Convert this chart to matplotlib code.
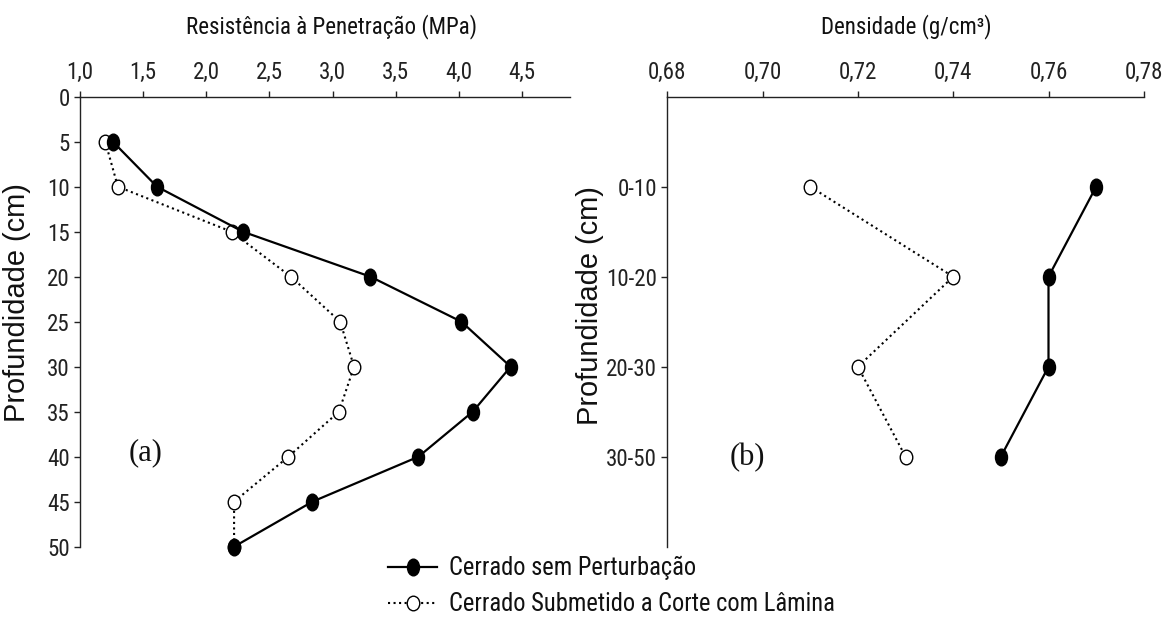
import numpy as np
import matplotlib
matplotlib.use('Agg')
import matplotlib.pyplot as plt
from matplotlib import font_manager as fm
from matplotlib.font_manager import FontProperties
from matplotlib.path import Path
from matplotlib.textpath import TextPath
from matplotlib.transforms import Affine2D
from matplotlib.lines import Line2D
from matplotlib.ticker import FuncFormatter

# dados
prof = [5, 10, 15, 20, 25, 30, 35, 40, 45, 50]
rp_sem = [1.26, 1.61, 2.29, 3.30, 4.02, 4.41, 4.11, 3.68, 2.84, 2.22]
rp_corte = [1.20, 1.30, 2.20, 2.67, 3.06, 3.17, 3.05, 2.65, 2.22, 2.22]

camadas = ['0-10', '10-20', '20-30', '30-50']
dens_sem = [0.77, 0.76, 0.76, 0.75]
dens_corte = [0.71, 0.74, 0.72, 0.73]

rotulos = ['Cerrado sem Perturbação', 'Cerrado Submetido a Corte com Lâmina']


def fonte_estreita():
    # the reference uses a narrow sans; take one if the box has it
    fontes = fm.fontManager.ttflist
    nomes = {f.name for f in fontes}
    for n in ('Liberation Sans Narrow', 'Arial Narrow', 'Roboto Condensed',
              'Open Sans Condensed', 'Noto Sans Condensed'):
        if n in nomes:
            return n, 'normal'
    for n in ('Roboto', 'Noto Sans', 'Open Sans', 'DejaVu Sans'):
        for f in fontes:
            if f.name == n and f.stretch in ('condensed', 'semi-condensed', 'extra-condensed', 600, 700):
                return n, 'condensed'
    return 'Liberation Sans', 'normal'


fam, estica = fonte_estreita()
plt.rcParams['font.family'] = [fam, 'DejaVu Sans']
plt.rcParams['font.stretch'] = estica
plt.rcParams['text.color'] = '#111111'
plt.rcParams['xtick.color'] = '#222222'
plt.rcParams['ytick.color'] = '#222222'

DPI = 100


def tamanho(txt, largura_px, familia=fam, stretch=estica):
    # font size (pt) that makes txt about largura_px wide
    prop = FontProperties(family=familia, stretch=stretch)
    w = TextPath((0, 0), txt, size=100, prop=prop).get_extents().width
    return largura_px * 72 / DPI / (w / 100)


fs_titulo = tamanho('Resistência à Penetração (MPa)', 288)
fs_tick = tamanho('0,68', 36)
fs_leg = tamanho('Cerrado sem Perturbação', 245)
fs_ylab = tamanho('Profundidade (cm)', 234, 'Liberation Sans', 'normal')


def elipse(sx):
    # the original picture is squeezed sideways, so circles look like ellipses
    return Path.unit_circle().transformed(Affine2D().scale(sx, 1.0))


cheio = elipse(0.72)
vazio = elipse(0.86)

W, H = 1171, 619
fig = plt.figure(figsize=(W / DPI, H / DPI), dpi=DPI)
ax1 = fig.add_axes([80 / W, 1 - 546.7 / H, 490 / W, 450 / H])
ax2 = fig.add_axes([667.3 / W, 1 - 546.7 / H, 476.5 / W, 450 / H])

estilo_sem = dict(color='black', lw=1.6, ls='-', marker=cheio, ms=12,
                  mfc='black', mec='black')
estilo_corte = dict(color='black', lw=1.5, ls=':', marker=vazio, ms=10.5,
                    mfc='white', mec='black', mew=1.0)

virg1 = FuncFormatter(lambda v, p: f'{v:.1f}'.replace('.', ','))
virg2 = FuncFormatter(lambda v, p: f'{v:.2f}'.replace('.', ','))

# (a) resistencia a penetracao
ax1.plot(rp_corte, prof, clip_on=False, **estilo_corte)
ax1.plot(rp_sem, prof, clip_on=False, **estilo_sem)
ax1.set_xlim(1.0, 4.88)
ax1.set_ylim(50, 0)
ax1.set_xticks(np.arange(1.0, 4.51, 0.5))
ax1.xaxis.set_major_formatter(virg1)
ax1.set_yticks(range(0, 51, 5))
ax1.text(0.133, 0.208, '(a)', transform=ax1.transAxes, ha='center', va='center',
         fontsize=22, family=['Liberation Serif', 'DejaVu Serif'], stretch='normal')

# (b) densidade
y = np.arange(1, len(camadas) + 1)
ax2.plot(dens_corte, y, clip_on=False, **estilo_corte)
ax2.plot(dens_sem, y, clip_on=False, **estilo_sem)
ax2.set_xlim(0.68, 0.78)
ax2.set_ylim(5, 0)
ax2.set_xticks(np.linspace(0.68, 0.78, 6))
ax2.xaxis.set_major_formatter(virg2)
ax2.set_yticks(y)
ax2.set_yticklabels(camadas)
ax2.text(0.167, 0.199, '(b)', transform=ax2.transAxes, ha='center', va='center',
         fontsize=22, family=['Liberation Serif', 'DejaVu Serif'], stretch='normal')

for ax in (ax1, ax2):
    ax.xaxis.tick_top()
    ax.spines['right'].set_visible(False)
    ax.spines['bottom'].set_visible(False)
    for s in ('top', 'left'):
        ax.spines[s].set_linewidth(1.0)
        ax.spines[s].set_color('#222222')
    ax.tick_params(axis='x', direction='out', length=4.5, width=1, pad=5, labelsize=fs_tick)
    ax.tick_params(axis='y', direction='out', length=4.5, width=1, pad=3, labelsize=fs_tick)

fig.text(332 / W, 1 - 27 / H, 'Resistência à Penetração (MPa)', ha='center', va='center',
         fontsize=fs_titulo)
fig.text(906 / W, 1 - 27 / H, 'Densidade (g/cm³)', ha='center', va='center',
         fontsize=fs_titulo)
for xp, yp in ((17, 303), (590, 306)):
    fig.text(xp / W, 1 - yp / H, 'Profundidade (cm)', rotation=90, ha='center', va='center',
             fontsize=fs_ylab, family=['Liberation Sans', 'DejaVu Sans'], stretch='normal')

handles = [Line2D([], [], **estilo_sem), Line2D([], [], **estilo_corte)]
fs_px = fs_leg * DPI / 72
fig.legend(handles, rotulos, loc='upper left', bbox_to_anchor=(388 / W, 1 - 556 / H),
           frameon=False, fontsize=fs_leg, handlelength=49 / fs_px, handletextpad=12 / fs_px,
           labelspacing=0.5, borderpad=0, borderaxespad=0)

fig.savefig('out.png', dpi=DPI)
